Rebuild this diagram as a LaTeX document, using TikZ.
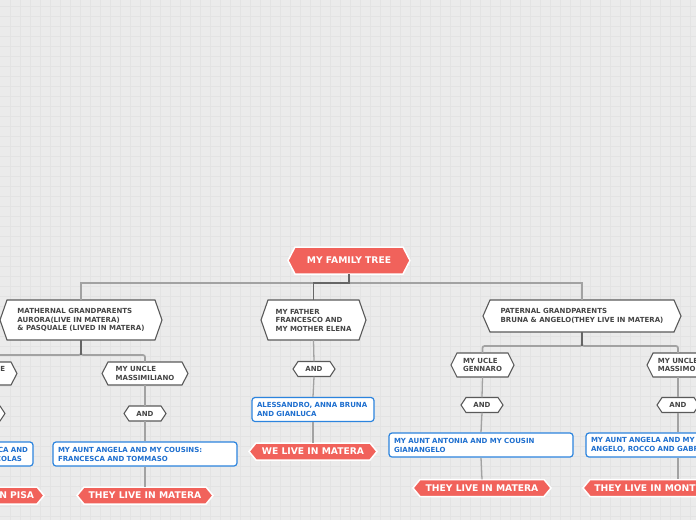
\documentclass[tikz,border=0pt]{standalone}
\usepackage{fontspec}
\setmainfont{DejaVu Sans}
\usetikzlibrary{calc}
\definecolor{bgc}{HTML}{EBEBEB}
\definecolor{gridc}{HTML}{E3E3E3}
\definecolor{redc}{HTML}{F1625B}
\definecolor{txtc}{HTML}{454545}
\definecolor{bluec}{HTML}{2C84DE}
\definecolor{bluetxt}{HTML}{1E6FCF}
\definecolor{linec}{HTML}{A2A2A2}
\definecolor{darkline}{HTML}{666666}
\definecolor{borderc}{HTML}{5A5A5A}
\tikzset{
  redshape/.style={fill=redc, draw=white, line width=1.5pt, line join=miter},
  whiteshape/.style={fill=white, draw=borderc, line width=1.1pt},
  redtext/.style={text=white, font=\fontsize{9.2}{10}\selectfont\bfseries, align=center},
  greytext/.style={text=txtc, font=\fontsize{7}{8.5}\selectfont\bfseries, align=left},
  andtext/.style={text=txtc, font=\fontsize{7}{8}\selectfont\bfseries, align=center},
  bluebox/.style={fill=white, draw=bluec, line width=1.2pt, rounded corners=3pt,
    text=bluetxt, font=\fontsize{7}{9}\selectfont\bfseries, align=left, inner sep=0pt,
    minimum height=24pt},
  busline/.style={draw=linec, line width=1.7pt},
  stubline/.style={draw=darkline, line width=1.3pt},
  thinline/.style={draw=linec, line width=1.3pt},
  gridline/.style={draw=gridc, line width=0.8pt},
}
% #1 name, #2 cx, #3 cy, #4 w, #5 h, #6 indent, #7 shape style, #8 text style, #9 text
\newcommand\hexnode[9]{%
  \path[#7] ({#2-#4/2},#3) -- ({#2-#4/2+#6},{#3-#5/2}) -- ({#2+#4/2-#6},{#3-#5/2})
    -- ({#2+#4/2},#3) -- ({#2+#4/2-#6},{#3+#5/2}) -- ({#2-#4/2+#6},{#3+#5/2}) -- cycle;
  \node[#8, inner sep=0pt, minimum width=#4pt, minimum height=#5pt] (#1) at (#2,#3) {#9};
}
\begin{document}
\begin{tikzpicture}[x=1pt,y=-1pt]
\useasboundingbox (0,0) rectangle (696,520);
\clip (0,0) rectangle (696,520);
\fill[bgc] (0,0) rectangle (696,520);
\foreach \i in {10,20,...,690} \draw[gridline] (\i,0) -- (\i,520);
\foreach \j in {6,16,...,516} \draw[gridline] (0,\j) -- (696,\j);

% ---------- nodes ----------
\hexnode{root}{349}{260.5}{122}{27}{7}{redshape}{redtext}{MY FAMILY TREE}

\hexnode{mat}{81}{320}{162}{40}{7}{whiteshape}{greytext}{MATHERNAL GRANDPARENTS\\AURORA(LIVE IN MATERA)\\\& PASQUALE (LIVED IN MATERA)}
\hexnode{fat}{313.5}{320}{105}{40}{7}{whiteshape}{greytext}{MY FATHER\\FRANCESCO AND\\MY MOTHER ELENA}
\hexnode{pat}{582}{316}{198}{32}{7}{whiteshape}{greytext}{PATERNAL GRANDPARENTS\\BRUNA \& ANGELO(THEY LIVE IN MATERA)}

\hexnode{unc}{-15}{373.5}{64}{23}{6}{whiteshape}{greytext}{MY UNCLE\\PIERO}
\hexnode{mass}{145}{373.5}{86}{23}{6}{whiteshape}{greytext}{MY UNCLE\\MASSIMILIANO}
\hexnode{gen}{482.5}{365}{63}{24}{6}{whiteshape}{greytext}{MY UCLE\\GENNARO}
\hexnode{mas}{678}{365}{62}{24}{6}{whiteshape}{greytext}{MY UNCLE\\MASSIMO}

\hexnode{and0}{-16}{413.5}{42}{15}{5}{whiteshape}{andtext}{AND}
\hexnode{and1}{145}{413.5}{42}{15}{5}{whiteshape}{andtext}{AND}
\hexnode{andf}{314}{369}{42}{15}{5}{whiteshape}{andtext}{AND}
\hexnode{andg}{482}{405}{42}{15}{5}{whiteshape}{andtext}{AND}
\hexnode{andm}{678}{405}{42}{15}{5}{whiteshape}{andtext}{AND}

\node[bluebox, minimum width=96pt, text width=86pt, align=right] (b0) at (-15,454)
  {\mbox{FRANCESCA AND}\\\mbox{NICOLAS}\kern6pt};
\node[bluebox, minimum width=184pt, text width=174pt] (b1) at (145,454)
  {\mbox{MY AUNT ANGELA AND MY COUSINS:}\\\mbox{FRANCESCA AND TOMMASO}};
\node[bluebox, minimum width=122pt, text width=112pt] (bf) at (313,409.5)
  {\mbox{ALESSANDRO, ANNA BRUNA}\\\mbox{AND GIANLUCA}};
\node[bluebox, minimum width=184pt, text width=174pt] (bg) at (481,445)
  {\mbox{MY AUNT ANTONIA AND MY COUSIN}\\\mbox{GIANANGELO}};
\node[bluebox, minimum width=184pt, text width=174pt] (bm) at (678,445)
  {\mbox{MY AUNT ANGELA AND MY COUSINS:}\\\mbox{ANGELO, ROCCO AND GABRIELE}};

\hexnode{r0}{-13}{495.5}{114}{17}{7}{redshape}{redtext}{THEY LIVE IN PISA}
\hexnode{r1}{145}{495.5}{136}{17}{7}{redshape}{redtext}{THEY LIVE IN MATERA}
\hexnode{rf}{313}{451.5}{128}{17}{7}{redshape}{redtext}{WE LIVE IN MATERA}
\hexnode{rg}{482}{488}{138}{17}{7}{redshape}{redtext}{THEY LIVE IN MATERA}
\hexnode{rm}{678}{488}{190}{17}{7}{redshape}{redtext}{THEY LIVE IN MONTESCAGLIOSO}

% ---------- connectors ----------
\coordinate (bus1) at (0,283);
\coordinate (bus2) at (0,355);
\coordinate (bus3) at (0,346);
\draw[busline] (root.south) -- (root.south |- bus1) -| (mat.north);
\draw[busline] (root.south) -- (root.south |- bus1) -| (pat.north);
\draw[stubline] (root.south) -- (root.south |- bus1) -| (fat.north);

\draw[busline, rounded corners=2pt] (mat.south) -- (mat.south |- bus2) -| (unc.north);
\draw[busline, rounded corners=2pt] (mat.south) -- (mat.south |- bus2) -| (mass.north);
\draw[stubline] (mat.south) -- (mat.south |- bus2);

\draw[busline, rounded corners=2pt] (pat.south) -- (pat.south |- bus3) -| (gen.north);
\draw[busline, rounded corners=2pt] (pat.south) -- (pat.south |- bus3) -| (mas.north);
\draw[stubline] (pat.south) -- (pat.south |- bus3);

\draw[thinline] (unc.south) -- (and0.north);
\draw[thinline] (and0.south) -- (b0.north);
\draw[thinline] (b0.south) -- (r0.north);
\draw[thinline] (mass.south) -- (and1.north);
\draw[thinline] (and1.south) -- (b1.north);
\draw[thinline] (b1.south) -- (r1.north);
\draw[thinline] (fat.south) -- (andf.north);
\draw[thinline] (andf.south) -- (bf.north);
\draw[thinline] (bf.south) -- (rf.north);
\draw[thinline] (gen.south) -- (andg.north);
\draw[thinline] (andg.south) -- (bg.north);
\draw[thinline] (bg.south) -- (rg.north);
\draw[thinline] (mas.south) -- (andm.north);
\draw[thinline] (andm.south) -- (bm.north);
\draw[thinline] (bm.south) -- (rm.north);
\end{tikzpicture}
\end{document}
